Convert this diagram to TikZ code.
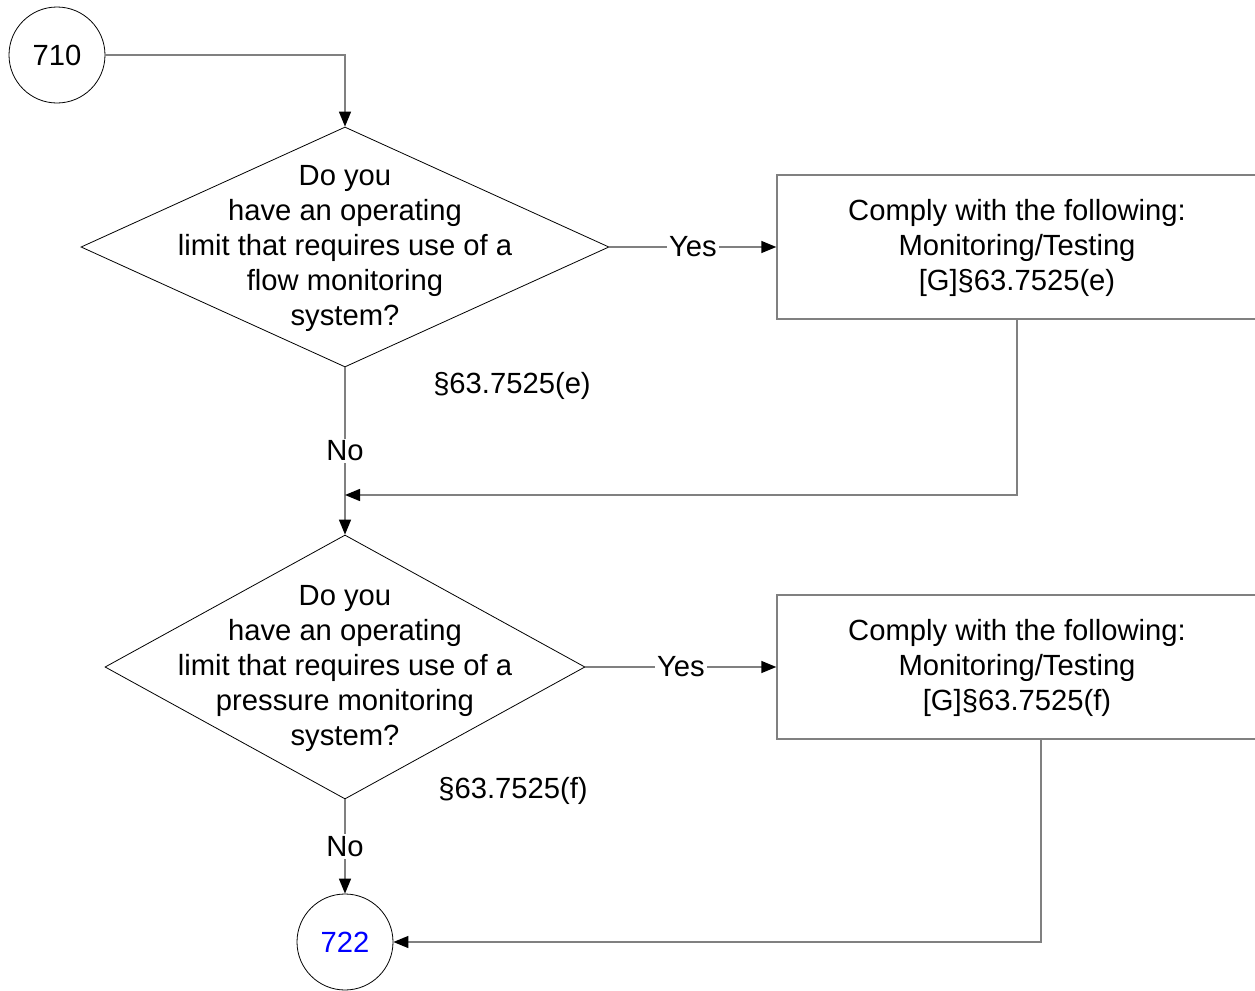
\documentclass[tikz,border=0pt]{standalone}
\usepackage{fontspec}
\setmainfont{Liberation Sans}
\usetikzlibrary{arrows.meta,shapes.geometric}
\begin{document}
\begin{tikzpicture}[x=0.5pt, y=-0.5pt,
        every node/.style={font=\fontsize{14.6pt}{17.5pt}\selectfont, align=center, inner sep=0pt},
        conn/.style={circle, draw, minimum size=48pt, line width=0.4pt},
        decision/.style={diamond, draw, line width=0.4pt},
        action/.style={rectangle, draw=gray, line width=0.7pt, minimum width=240pt, minimum height=72pt},
        flow/.style={draw=gray, line width=0.7pt, -{Triangle[length=7.5pt, width=6pt, color=black]}},
        lbl/.style={fill=white, inner sep=1pt}]
        \useasboundingbox (0,0) rectangle (1255,991);
        \node[conn] (710) at (57,55) {710};
        \node[decision, minimum width=264pt, minimum height=120pt] (q1) at (345,247) {};
        \node (q1t) at (345,248) {Do you\\have an operating\\limit that requires use of a\\flow monitoring\\system?};
        \node[action] (c1) at (1017,247) {};
        \node (c1t) at (1017,248) {Comply with the following:\\Monitoring/Testing\\{[G]}§63.7525(e)};
        \node (s1) at (512,386) {§63.7525(e)};
        \coordinate (m1) at (345,495);
        \node[decision, minimum width=240pt, minimum height=132pt] (q2) at (345,667) {};
        \node (q2t) at (345,668) {Do you\\have an operating\\limit that requires use of a\\pressure monitoring\\system?};
        \node[action] (c2) at (1017,667) {};
        \node (c2t) at (1017,668) {Comply with the following:\\Monitoring/Testing\\{[G]}§63.7525(f)};
        \node (s2) at (513,791) {§63.7525(f)};
        \node[conn, text=blue] (722) at (345,942) {722};
        \draw[flow] (710) -| (q1.north);
        \draw[flow] (q1.east) -- node[lbl] {Yes} (c1.west);
        \draw[flow] (q1.south) -- node[lbl] {No} (q2.north);
        \draw[flow] (c1.south) |- (m1);
        \draw[flow] (q2.east) -- node[lbl] {Yes} (c2.west);
        \draw[flow] (q2.south) -- node[lbl] {No} (722.north);
        \draw[flow] ([xshift=12pt]c2.south) |- (722);
    \end{tikzpicture}
\end{document}
